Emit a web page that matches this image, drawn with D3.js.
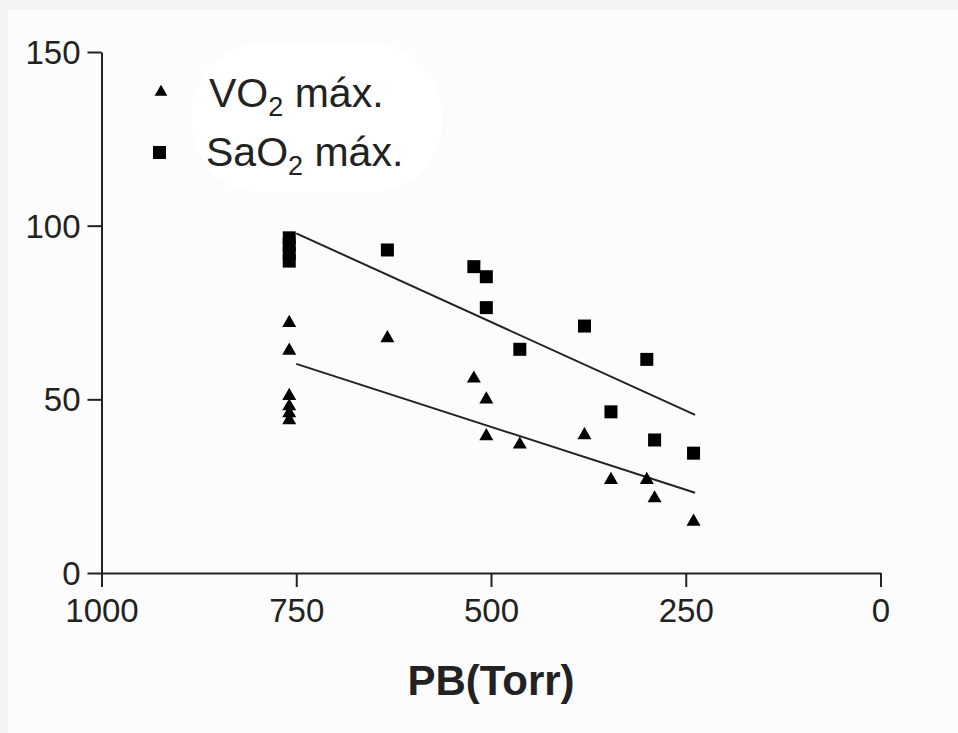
<!DOCTYPE html>
<html>
<head>
<meta charset="utf-8">
<script src="https://cdn.jsdelivr.net/npm/d3@7"></script>
<style>
  body { margin: 0; background: #f3f3f3; }
  svg { display: block; }
  text { font-family: Arial, "Liberation Sans", sans-serif; fill: #222; }
</style>
</head>
<body>
<svg id="chart"></svg>
<script>
// values
var vo2X = [759, 759, 759, 759, 759, 759, 633, 522, 506, 506, 463, 380, 346, 300, 290, 240];
var vo2Y = [72, 64, 51, 48, 46, 44, 67.6, 56, 50, 39.4, 37, 39.7, 26.8, 26.8, 21.5, 14.8];
var saoX = [759, 759, 759, 759, 633, 522, 506, 506, 463, 380, 300, 346, 290, 240];
var saoY = [96.5, 94.5, 92, 89.8, 93, 88.2, 85.3, 76.4, 64.4, 71.1, 61.5, 46.4, 38.3, 34.5];
// fitted lines, end points
var fitX = [750, 238];
var vo2Fit = [60.2, 23.1];
var saoFit = [97.8, 45.5];
var xTicks = [1000, 750, 500, 250, 0];
var yTicks = [0, 50, 100, 150];

var width = 958, height = 733;
var svg = d3.select('#chart').attr('width', width).attr('height', height);

// panel
svg.append('rect').attr('x', 8).attr('y', 10).attr('width', width - 8).attr('height', height - 10)
  .attr('fill', '#fcfcfc');
// soft legend backdrop
svg.append('rect').attr('x', 192).attr('y', 44).attr('width', 250).attr('height', 148)
  .attr('rx', 70).attr('ry', 70).attr('fill', '#ffffff');

var x = d3.scaleLinear().domain([1000, 0]).range([101.5, 880.5]);
var y = d3.scaleLinear().domain([0, 150]).range([573, 52]);

var xAxis = svg.append('g').attr('transform', 'translate(0,573)')
  .call(d3.axisBottom(x).tickValues(xTicks).tickFormat(d3.format('d'))
    .tickSize(14).tickPadding(12).tickSizeOuter(0));
var yAxis = svg.append('g').attr('transform', 'translate(101.5,0)')
  .call(d3.axisLeft(y).tickValues(yTicks).tickFormat(d3.format('d'))
    .tickSize(14).tickPadding(7).tickSizeOuter(0));

[xAxis, yAxis].forEach(function(a) {
  a.select('.domain').attr('stroke', '#222').attr('stroke-width', 2);
  a.selectAll('.tick line').attr('stroke', '#222').attr('stroke-width', 2);
  a.selectAll('.tick text').attr('font-size', 33).attr('fill', '#333')
    .style('font-family', 'Arial, "Liberation Sans", sans-serif');
});
yAxis.selectAll('.tick text').attr('dy', '0.35em');

// fitted lines
function fitLine(vals) {
  svg.append('line')
    .attr('x1', x(fitX[0])).attr('y1', y(vals[0]))
    .attr('x2', x(fitX[1])).attr('y2', y(vals[1]))
    .attr('stroke', '#222').attr('stroke-width', 2);
}
fitLine(saoFit);
fitLine(vo2Fit);

var tri = d3.symbol().type(d3.symbolTriangle).size(85);

svg.append('g').selectAll('path')
  .data(vo2X)
  .enter()
  .append('path')
  .attr('d', tri)
  .attr('transform', function(d, i) { return 'translate(' + x(d) + ',' + y(vo2Y[i]) + ')'; })
  .attr('fill', '#000');

svg.append('g').selectAll('rect')
  .data(saoX)
  .enter()
  .append('rect')
  .attr('x', function(d) { return x(d) - 6.5; })
  .attr('y', function(d, i) { return y(saoY[i]) - 6.5; })
  .attr('width', 13).attr('height', 13)
  .attr('fill', '#000');

// legend
svg.append('path').attr('d', d3.symbol().type(d3.symbolTriangle).size(70))
  .attr('transform', 'translate(161,92)').attr('fill', '#000');
svg.append('rect').attr('x', 153).attr('y', 146).attr('width', 13).attr('height', 13).attr('fill', '#000');

var l1 = svg.append('text').attr('x', 209).attr('y', 107).attr('font-size', 41);
l1.append('tspan').text('VO');
l1.append('tspan').text('2').attr('font-size', 27).attr('dy', 9);
l1.append('tspan').text(' máx.').attr('dy', -9);

var l2 = svg.append('text').attr('x', 206).attr('y', 166).attr('font-size', 41);
l2.append('tspan').text('SaO');
l2.append('tspan').text('2').attr('font-size', 27).attr('dy', 9);
l2.append('tspan').text(' máx.').attr('dy', -9);

// axis title
svg.append('text').attr('x', 491).attr('y', 695).attr('text-anchor', 'middle')
  .attr('font-size', 42).attr('font-weight', 'bold').text('PB(Torr)');
</script>
</body>
</html>
